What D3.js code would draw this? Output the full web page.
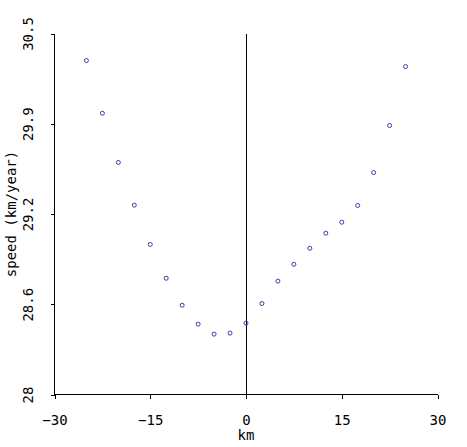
<!DOCTYPE html>
<html><head><meta charset="utf-8">
<script src="https://cdn.jsdelivr.net/npm/d3@7"></script>
<style>body{margin:0;background:#fff}svg{display:block}text{font-family:"DejaVu Sans Mono",monospace;fill:#000}line,path.domain{shape-rendering:crispEdges}</style>
</head><body>
<script>
const xs = [-25,-22.5,-20,-17.5,-15,-12.5,-10,-7.5,-5,-2.5,0,2.5,5,7.5,10,12.5,15,17.5,20,22.5,25];
const speeds = [30.313,29.948,29.607,29.311,29.039,28.805,28.618,28.487,28.418,28.425,28.494,28.630,28.785,28.902,29.013,29.117,29.193,29.309,29.537,29.863,30.271];
const xTicks = [-30,-15,0,15,30];
const yTicks = [28,28.625,29.25,29.875,30.5];
const yTickLabels = ["28","28.6","29.2","29.9","30.5"];

const W=467,H=447;
const svg=d3.select("body").append("svg").attr("width",W).attr("height",H);
const x=d3.scaleLinear().domain([-30,30]).range([54.5,437.5]);
const y=d3.scaleLinear().domain([28,30.5]).range([394.5,33.5]);
const FS="14px";

const xAxis=d3.axisBottom(x).tickValues(xTicks).tickSize(4).tickSizeOuter(0).tickFormat(d3.format("d"));
const gx=svg.append("g").attr("transform","translate(0,394.5)").call(xAxis);
gx.select(".domain").attr("d",`M${x(-30)-0.5},0H${x(30)}`);
gx.selectAll("text").style("font-size",FS).attr("dy","0").attr("y",30.5);
gx.selectAll("line").attr("stroke","#000");

const yAxis=d3.axisLeft(y).tickValues(yTicks).tickSize(4).tickSizeOuter(0).tickFormat((d,i)=>yTickLabels[i]);
const gy=svg.append("g").attr("transform","translate(54.5,0)").call(yAxis);
gy.selectAll("text").style("font-size",FS)
  .attr("text-anchor","middle").attr("dy","0")
  .attr("transform","translate(-21.5,0) rotate(-90)").attr("x",0).attr("y",0);
gy.select(".domain").attr("d",`M0,${y(30.5)}V${y(28)+0.5}`);

svg.append("line").attr("x1",x(0)).attr("x2",x(0)).attr("y1",y(30.5)).attr("y2",y(28)).attr("stroke","#000");

svg.append("text").attr("x",x(0)).attr("y",440).attr("text-anchor","middle").style("font-size",FS).text("km");
svg.append("text").attr("transform",`translate(16,${(y(28)+y(30.5))/2}) rotate(-90)`).attr("text-anchor","middle").style("font-size",FS).text("speed (km/year)");

svg.append("g").selectAll("circle").data(xs).join("circle")
  .attr("cx",d=>x(d)).attr("cy",(d,i)=>y(speeds[i])).attr("r",2)
  .attr("fill","none").attr("stroke","#3c3ca8").attr("stroke-width",1);
</script>
</body></html>
